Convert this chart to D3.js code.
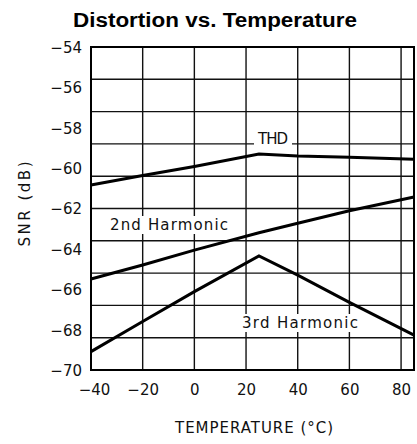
<!DOCTYPE html>
<html>
<head>
<meta charset="utf-8">
<script src="https://cdn.jsdelivr.net/npm/d3@7"></script>
<style>
  html, body { margin: 0; padding: 0; background: #fff; }
  svg { display: block; }
  .lbl { font-family: "DejaVu Sans", sans-serif; font-size: 15px; fill: #111; }
</style>
</head>
<body>
<div id="chart"></div>
<script>
// ---- data ----
const temperatures = [-40, -20, 0, 25, 40, 60, 85];
const thdValues = [-60.84, -60.37, -59.92, -59.3, -59.4, -59.46, -59.56];
const secondHarmonicValues = [-65.49, -64.8, -64.06, -63.2, -62.73, -62.11, -61.43];
const thirdHarmonicValues = [-69.09, -67.6, -66.12, -64.35, -65.3, -66.65, -68.27];
const xTickValues = [-40, -20, 0, 20, 40, 60, 80];
const yTickValues = [-54, -56, -58, -60, -62, -64, -66, -68, -70];
const seriesLabels = ["THD", "2nd Harmonic", "3rd Harmonic"];
const titleText = "Distortion vs. Temperature";
const xTitle = "TEMPERATURE (°C)";
const yTitle = "SNR (dB)";

// ---- layout ----
const W = 417, H = 444;
const margin = { left: 91, right: 3, top: 47, bottom: 74 };
const svg = d3.select("#chart").append("svg").attr("width", W).attr("height", H);

const x = d3.scaleLinear().domain([-40, 85]).range([margin.left, W - margin.right]);
const y = d3.scaleLinear().domain([-54, -70]).range([margin.top, H - margin.bottom]);

// title
svg.append("text")
  .attr("x", 215).attr("y", 27)
  .attr("text-anchor", "middle")
  .style("font-family", "'Liberation Sans', Arial, sans-serif")
  .style("font-weight", "bold")
  .style("font-size", "20px")
  .attr("textLength", 284).attr("lengthAdjust", "spacingAndGlyphs")
  .text(titleText);

// grid
const g = svg.append("g");
const hGrid = d3.range(11).map(i => y.domain()[0] + i * (y.domain()[1] - y.domain()[0]) / 10);
g.selectAll("line.h").data(hGrid).join("line")
  .attr("class", "h")
  .attr("x1", x.range()[0]).attr("x2", x.range()[1])
  .attr("y1", d => y(d)).attr("y2", d => y(d))
  .attr("stroke", "#111").attr("stroke-width", 1.4);
g.selectAll("line.v").data(xTickValues.slice(1)).join("line")
  .attr("class", "v")
  .attr("x1", d => x(d)).attr("x2", d => x(d))
  .attr("y1", y.range()[0]).attr("y2", y.range()[1])
  .attr("stroke", "#111").attr("stroke-width", 1.4);
g.append("rect")
  .attr("x", x.range()[0]).attr("y", y.range()[0])
  .attr("width", x.range()[1] - x.range()[0])
  .attr("height", y.range()[1] - y.range()[0])
  .attr("fill", "none").attr("stroke", "#000").attr("stroke-width", 2);

// axes (labels only)
const fmt = d3.format("d");
const yAxis = svg.append("g")
  .attr("transform", `translate(${margin.left - 9},0)`)
  .call(d3.axisLeft(y).tickValues(yTickValues).tickSize(0).tickPadding(0).tickFormat(fmt));
yAxis.select(".domain").remove();
yAxis.selectAll("text").attr("class", "lbl").attr("dy", "0.36em")
  .style("font-family", "'DejaVu Sans', sans-serif").style("font-size", "15px").attr("fill", "#111");

const xAxis = svg.append("g")
  .attr("transform", `translate(0,${y.range()[1] + 14})`)
  .call(d3.axisBottom(x).tickValues(xTickValues).tickSize(0).tickPadding(0).tickFormat(fmt));
xAxis.select(".domain").remove();
xAxis.selectAll("text").attr("class", "lbl").attr("dy", "0.71em")
  .style("font-family", "'DejaVu Sans', sans-serif").style("font-size", "15px").attr("fill", "#111")
  .attr("dx", d => d === -40 ? 3 : 0);

// axis titles
svg.append("text").attr("class", "lbl")
  .attr("x", 254).attr("y", 433)
  .attr("text-anchor", "middle")
  .attr("textLength", 158).attr("lengthAdjust", "spacing")
  .text(xTitle);
svg.append("text").attr("class", "lbl")
  .attr("transform", "translate(30,204) rotate(-90)")
  .attr("text-anchor", "middle")
  .attr("textLength", 85).attr("lengthAdjust", "spacing")
  .text(yTitle);

// lines
const line = d3.line().x(d => x(d[0])).y(d => y(d[1]));
[thdValues, secondHarmonicValues, thirdHarmonicValues].forEach(vals => {
  svg.append("path")
    .datum(temperatures.map((t, i) => [t, vals[i]]))
    .attr("d", line)
    .attr("fill", "none")
    .attr("stroke", "#000")
    .attr("stroke-width", 3)
    .attr("stroke-linejoin", "miter");
});

// series labels (with white background like the reference)
const labels = [
  { text: seriesLabels[0], cx: 273, cy: 139, w: 30 },
  { text: seriesLabels[1], cx: 169, cy: 225, w: 118 },
  { text: seriesLabels[2], cx: 300, cy: 323, w: 116 }
];
labels.forEach(l => {
  svg.append("rect")
    .attr("x", l.cx - l.w / 2 - 4).attr("y", l.cy - 9)
    .attr("width", l.w + 8).attr("height", 18)
    .attr("fill", "#fff");
  svg.append("text").attr("class", "lbl")
    .attr("x", l.cx).attr("y", l.cy).attr("dy", "0.36em")
    .attr("text-anchor", "middle")
    .attr("textLength", l.w).attr("lengthAdjust", "spacing")
    .text(l.text);
});
</script>
</body>
</html>
